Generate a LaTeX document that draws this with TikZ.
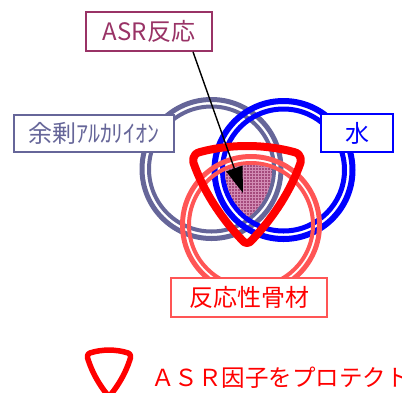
\documentclass[tikz,border=0pt]{standalone}
\usepackage{fontspec}
\newfontfamily\jp{Noto Sans CJK JP}
\usetikzlibrary{arrows.meta,patterns}
\definecolor{alk}{HTML}{666699}
\definecolor{asrc}{HTML}{993366}
\definecolor{wat}{HTML}{0000FF}
\definecolor{agg}{HTML}{FF5555}
\definecolor{prot}{HTML}{FF0000}
\definecolor{hatchfill}{RGB}{165,75,125}
\definecolor{hatchline}{RGB}{210,140,180}
\def\triPath{(-47,4) .. controls (-17,-4) and (17,-4) .. (47,4)
  .. controls (55,6) and (55,13) .. (52,19)
  .. controls (41,48) and (23,73) .. (5,92)
  .. controls (2,96) and (-2,96) .. (-5,92)
  .. controls (-23,73) and (-41,48) .. (-52,19)
  .. controls (-55,13) and (-55,6) .. cycle}
\tikzset{
  outerring/.style={line width=5pt},
  innerring/.style={line width=4pt},
  labelbox/.style={draw, fill=white, line width=1.6pt, inner sep=0pt, font=\jp\fontsize{24}{28}\selectfont},
}
\begin{document}
\begin{tikzpicture}[x=1pt,y=-1pt]
\useasboundingbox (0,0) rectangle (402,392);
% rings
\draw[outerring, alk] (211.5,169) circle[radius=69.5pt];
\draw[innerring, alk] (211.5,169) circle[radius=62.5pt];
\draw[outerring, wat, line width=6pt] (283.5,170) circle[radius=69pt];
\draw[innerring, wat, line width=5pt] (283.5,170) circle[radius=61pt];
\draw[outerring, agg] (251,225) circle[radius=68.5pt];
\draw[innerring, agg] (251,225) circle[radius=62pt];
% shaded intersection
\begin{scope}
  \clip (211.5,169) circle[radius=60.5pt];
  \clip (283.5,170) circle[radius=58.5pt];
  \clip (251,225) circle[radius=60pt];
  \fill[hatchfill] (150,100) rectangle (350,260);
  \fill[pattern=grid, pattern color=hatchline] (150,100) rectangle (350,260);
\end{scope}
% protect triangle
\draw[prot, line width=8pt, line join=round, shift={(247,148)}] \triPath;
% boxes
\node[labelbox, draw=asrc, text=asrc, minimum width=126pt, minimum height=39pt] (asr) at (149,31.5) {ASR反応};
\node[labelbox, draw=alk, text=alk, minimum width=160pt, minimum height=37pt] (alkbox) at (94,133.5) {余剰ｱﾙｶﾘｲｵﾝ};
\node[labelbox, draw=wat, text=wat, minimum width=72pt, minimum height=38pt] (water) at (357,133) {水};
\node[labelbox, draw=agg, text=prot, minimum width=156pt, minimum height=39pt] (aggbox) at (249,297.5) {反応性骨材};
% arrow
\coordinate (tip) at (243,193);
\draw[line width=1.4pt, -{Triangle[length=26pt,width=17pt]}] ([xshift=44pt]asr.south) -- (tip);
% legend
\draw[prot, line width=5.5pt, line join=round, shift={(109,351)}, xscale=0.4, yscale=0.47] \triPath;
\node[anchor=west, inner sep=0pt, text=prot, font=\jp\fontsize{23.5}{28}\selectfont] (legend) at (151,378) {ＡＳＲ因子をプロテクト};
\end{tikzpicture}
\end{document}
